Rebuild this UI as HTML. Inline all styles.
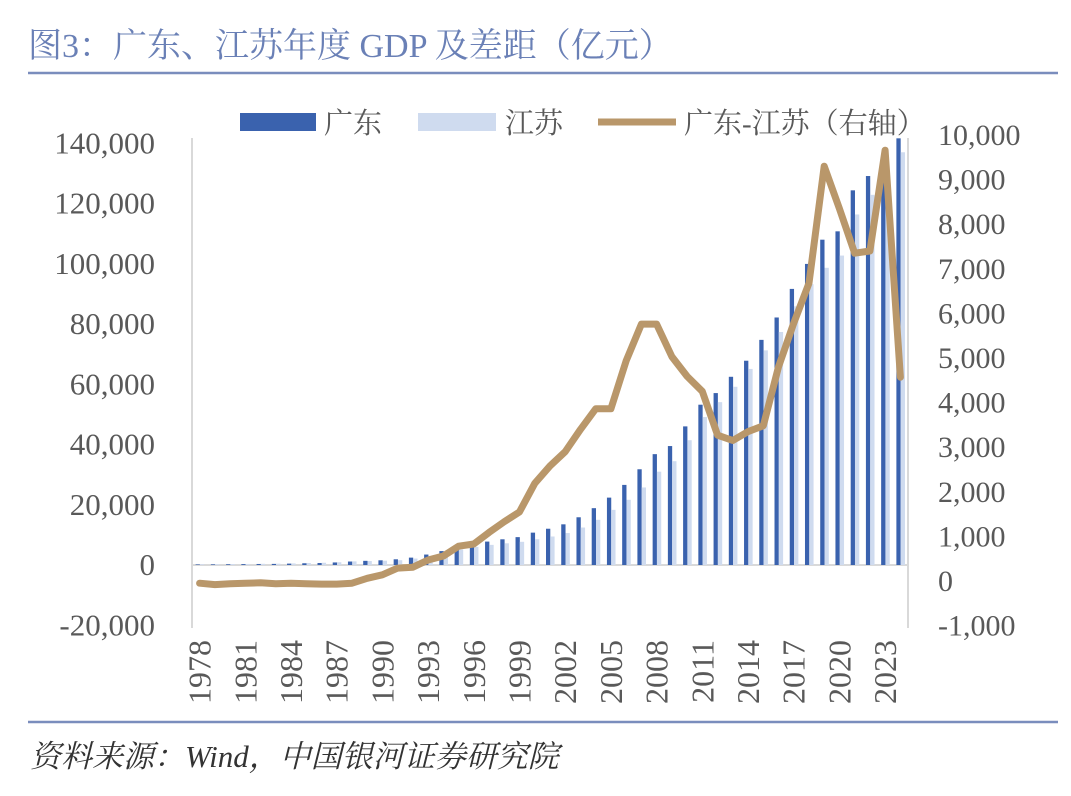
<!DOCTYPE html>
<html><head><meta charset="utf-8">
<style>
body{margin:0;background:#fff;}
svg text{font-family:"Liberation Serif","Noto Serif CJK SC",serif;}
</style></head>
<body>
<svg id="chart" width="1071" height="791" viewBox="0 0 1071 791" xmlns="http://www.w3.org/2000/svg">
<text x="28" y="57" font-size="34" fill="#6a80b6">图3：广东、江苏年度 GDP 及差距（亿元）</text>
<line x1="28" y1="73" x2="1058" y2="73" stroke="#7a8dbd" stroke-width="2.5"/>
<line x1="28" y1="722" x2="1058" y2="722" stroke="#7a8dbd" stroke-width="2.5"/>
<text x="30" y="767" font-size="31" font-style="italic" fill="#333">资料来源：Wind，中国银河证券研究院</text>
<g>
<rect x="240" y="113" width="76" height="18" fill="#3a62ae"/>
<text x="324" y="133" font-size="29" fill="#595959">广东</text>
<rect x="418" y="113" width="78" height="18" fill="#cfdbef"/>
<text x="505" y="133" font-size="29" fill="#595959">江苏</text>
<line x1="598" y1="122" x2="676" y2="122" stroke="#b9976a" stroke-width="7"/>
<text x="684" y="133" font-size="29" fill="#595959">广东-江苏（右轴）</text>
</g>
<g id="plot"></g>
</svg>
<script>
const years=[];for(let y=1978;y<=2024;y++)years.push(y);
const gd=[186,209,250,291,340,369,459,577,667,847,1155,1381,1559,1893,2448,3469,4619,5934,6835,7775,8531,9251,10741,12039,13502,15845,18865,22367,26588,31777,36797,39483,46013,53210,57068,62475,67810,74732,82163,91649,99945,107987,110761,124370,129118,135673,141634];
const js=[249,298,319,350,390,438,518,652,744,922,1209,1322,1417,1601,2136,2998,4057,5155,6004,6680,7200,7698,8554,9457,10607,12443,15004,18306,21645,25741,30982,34457,41425,49110,54058,59162,65088,71255,77351,85870,93208,98657,102719,116364,122876,128222,137008];
const diff=[-50,-80,-60,-50,-40,-60,-50,-60,-70,-70,-50,60,140,290,310,470,560,780,830,1090,1330,1550,2190,2580,2900,3400,3860,3860,4940,5760,5760,5030,4590,4250,3270,3150,3350,3480,4800,5780,6680,9300,8350,7350,7400,9660,4570];
const leftTicks=[-20000,0,20000,40000,60000,80000,100000,120000,140000];
const rightTicks=[-1000,0,1000,2000,3000,4000,5000,6000,7000,8000,9000,10000];
const ns='http://www.w3.org/2000/svg';
const g=document.getElementById('plot');
const X0=192,X1=908,step=(X1-X0)/years.length;
const xc=i=>X0+step*(i+0.5);
const yL=v=>565-v/20000*60.25;
const yR=v=>581-v/1000*44.6;
function mk(t,a){const e=document.createElementNS(ns,t);for(const k in a)e.setAttribute(k,a[k]);g.appendChild(e);return e;}
let e;
e=mk('line',{x1:X0,y1:yL(0),x2:X1,y2:yL(0),stroke:'#d9d9d9','stroke-width':2});


e=mk('line',{x1:X0,y1:138,x2:X0,y2:628,stroke:'#d9d9d9','stroke-width':2});


e=mk('line',{x1:X1,y1:138,x2:X1,y2:628,stroke:'#d9d9d9','stroke-width':2});


leftTicks.forEach(v=>{const t=mk('text',{x:155,y:yL(v)+10,'font-size':31,fill:'#595959','text-anchor':'end'});t.textContent=v.toLocaleString('en-US');

});
rightTicks.forEach(v=>{const t=mk('text',{x:938,y:yR(v)+10,'font-size':30,fill:'#595959'});t.textContent=v.toLocaleString('en-US');

});
years.forEach((y,i)=>{
 const c=xc(i);
 const b1=mk('rect',{x:c-4,y:Math.min(yL(gd[i]),yL(0)),width:4.3,height:Math.abs(yL(0)-yL(gd[i])),fill:'#3a62ae'});
 
 
 const b2=mk('rect',{x:c+0.3,y:Math.min(yL(js[i]),yL(0)),width:4.3,height:Math.abs(yL(0)-yL(js[i])),fill:'#cfdbef'});
 
 
 if(i%3===0){const t=mk('text',{x:0,y:0,'font-size':32,fill:'#595959','text-anchor':'end',transform:`translate(${c+11},640) rotate(-90)`});t.textContent=y;
 
 }
});
const pts=diff.map((v,i)=>xc(i).toFixed(1)+','+yR(v).toFixed(1)).join(' ');
e=mk('polyline',{points:pts,fill:'none',stroke:'#b9976a','stroke-width':7,'stroke-linejoin':'round','stroke-linecap':'round'});


</script>
</body></html>
